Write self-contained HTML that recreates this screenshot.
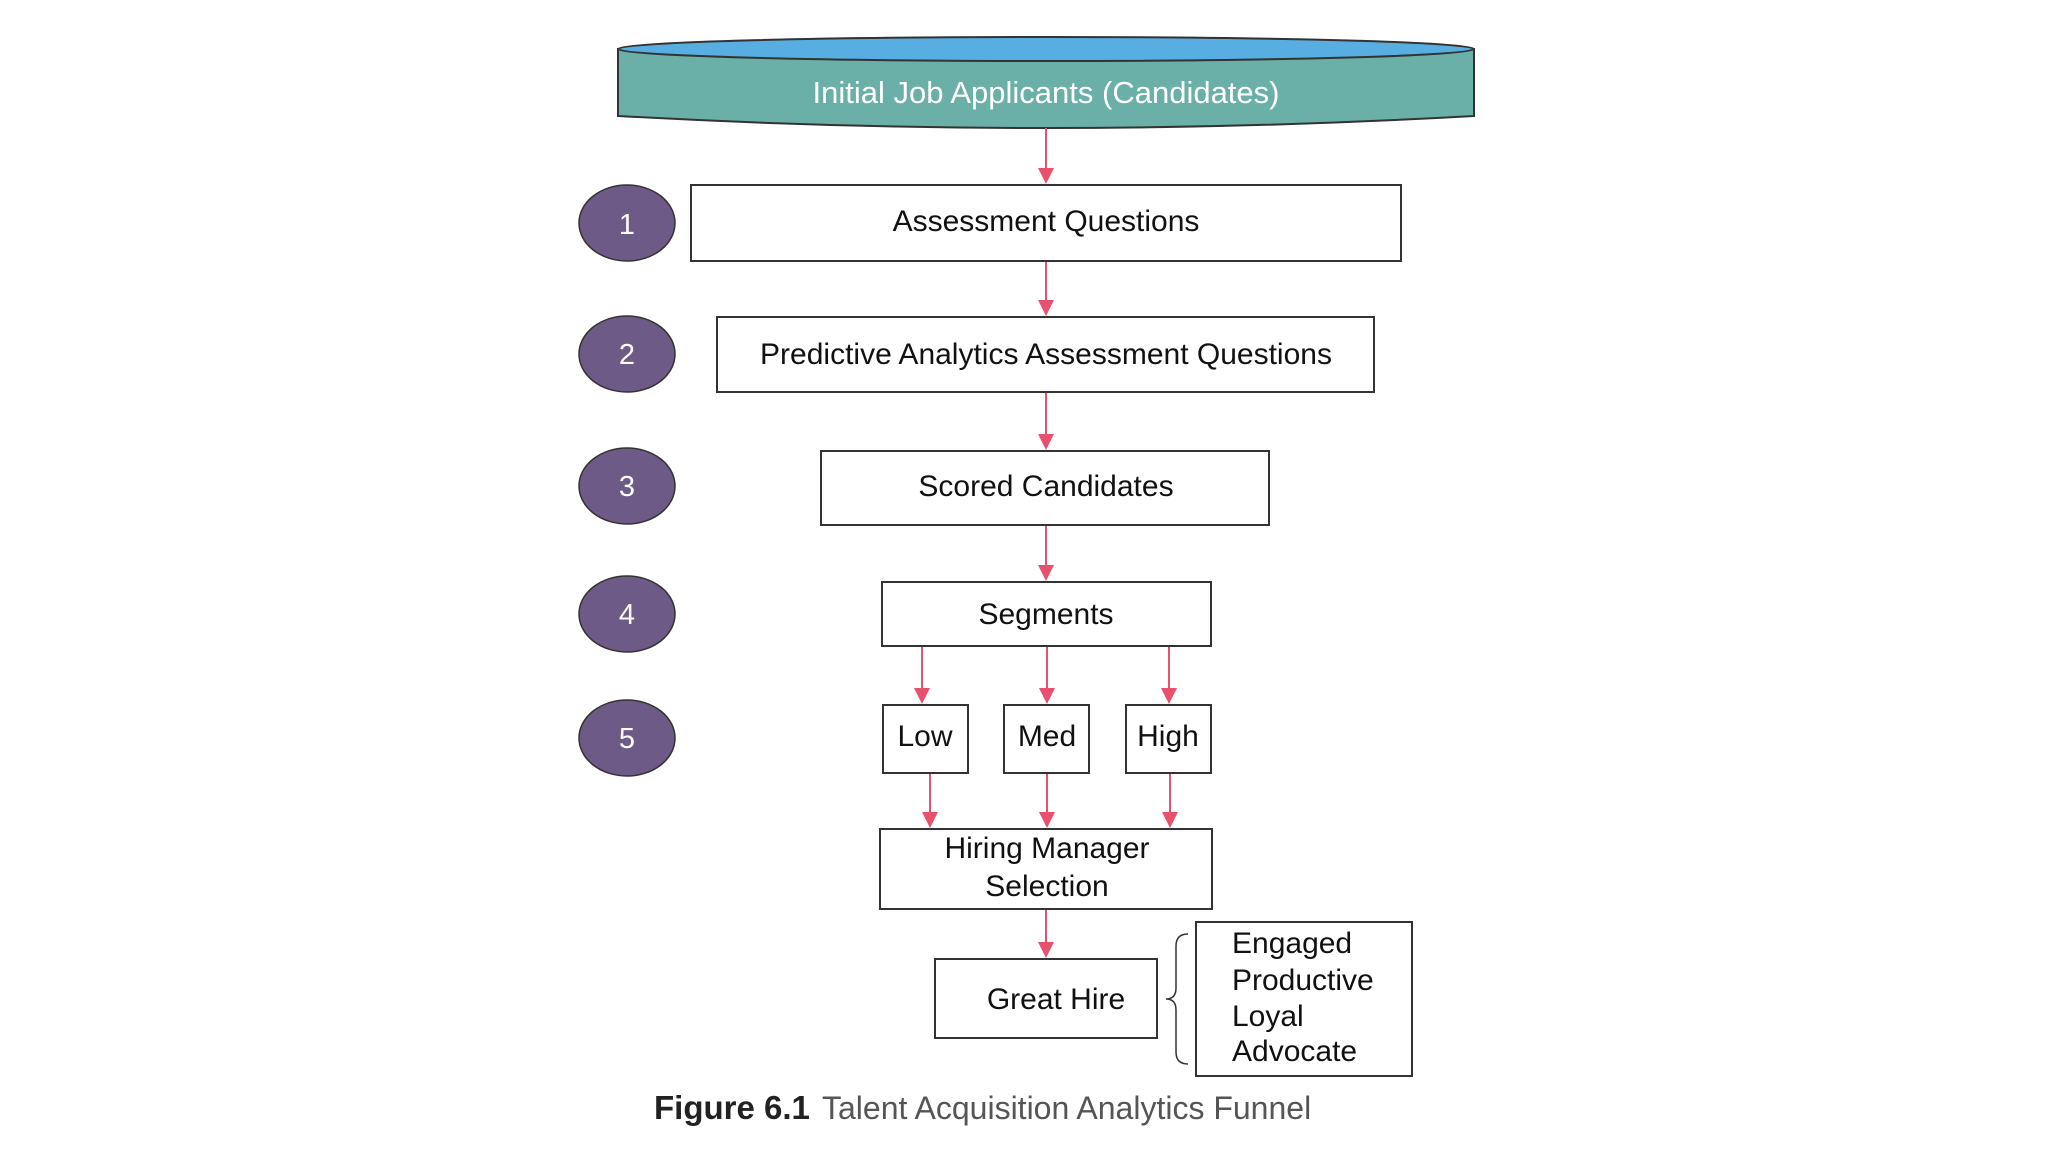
<!DOCTYPE html>
<html><head><meta charset="utf-8"><style>
body{margin:0;background:#fff;}
svg text{font-family:"Liberation Sans",sans-serif;}
</style></head><body>
<svg width="2048" height="1152" viewBox="0 0 2048 1152" xmlns="http://www.w3.org/2000/svg">
<defs><marker id="a" markerWidth="10" markerHeight="10" refX="9" refY="5" orient="auto" markerUnits="userSpaceOnUse" viewBox="0 0 10 10"><path d="M0,0 L10,5 L0,10 z" fill="#e8506e"/></marker></defs>
<!-- cylinder -->
<path d="M618,49 L618,116 Q1046,140 1474,116 L1474,49 Z" fill="#6aafa8" stroke="#333" stroke-width="2"/>
<ellipse cx="1046" cy="49" rx="428" ry="12" fill="#58aee0" stroke="#333" stroke-width="2"/>
<text x="1046" y="103" font-size="31" fill="#fff" text-anchor="middle">Initial Job Applicants (Candidates)</text>
<g stroke="#e8506e" stroke-width="2" fill="none">
<line x1="1046" y1="128" x2="1046" y2="168"/>
<line x1="1046" y1="261" x2="1046" y2="300"/>
<line x1="1046" y1="392" x2="1046" y2="434"/>
<line x1="1046" y1="525" x2="1046" y2="565"/>
<line x1="922" y1="646" x2="922" y2="690"/>
<line x1="1047" y1="646" x2="1047" y2="690"/>
<line x1="1169" y1="646" x2="1169" y2="690"/>
<line x1="930" y1="773" x2="930" y2="813"/>
<line x1="1047" y1="773" x2="1047" y2="813"/>
<line x1="1170" y1="773" x2="1170" y2="813"/>
<line x1="1046" y1="909" x2="1046" y2="943"/>
</g>
<g fill="#e8506e">
<path d="M1038,168 L1054,168 L1046,184 Z"/>
<path d="M1038,300 L1054,300 L1046,316 Z"/>
<path d="M1038,434 L1054,434 L1046,450 Z"/>
<path d="M1038,565 L1054,565 L1046,581 Z"/>
<path d="M914,688 L930,688 L922,704 Z"/>
<path d="M1039,688 L1055,688 L1047,704 Z"/>
<path d="M1161,688 L1177,688 L1169,704 Z"/>
<path d="M922,812 L938,812 L930,828 Z"/>
<path d="M1039,812 L1055,812 L1047,828 Z"/>
<path d="M1162,812 L1178,812 L1170,828 Z"/>
<path d="M1038,942 L1054,942 L1046,958 Z"/>
</g>
<!-- circles -->
<g fill="#6e5a86" stroke="#333" stroke-width="1.5">
<ellipse cx="627" cy="223" rx="48" ry="38"/>
<ellipse cx="627" cy="354" rx="48" ry="38"/>
<ellipse cx="627" cy="486" rx="48" ry="38"/>
<ellipse cx="627" cy="614" rx="48" ry="38"/>
<ellipse cx="627" cy="738" rx="48" ry="38"/>
</g>
<g fill="#fff" font-size="29" text-anchor="middle">
<text x="627" y="234">1</text><text x="627" y="364">2</text><text x="627" y="496">3</text><text x="627" y="624">4</text><text x="627" y="748">5</text>
</g>
<!-- boxes -->
<g fill="#fff" stroke="#333" stroke-width="2">
<rect x="691" y="185" width="710" height="76"/>
<rect x="717" y="317" width="657" height="75"/>
<rect x="821" y="451" width="448" height="74"/>
<rect x="882" y="582" width="329" height="64"/>
<rect x="883" y="705" width="85" height="68"/>
<rect x="1004" y="705" width="85" height="68"/>
<rect x="1126" y="705" width="85" height="68"/>
<rect x="880" y="829" width="332" height="80"/>
<rect x="935" y="959" width="222" height="79"/>
<rect x="1196" y="922" width="216" height="154"/>
</g>
<g fill="#111" font-size="30" text-anchor="middle">
<text x="1046" y="231">Assessment Questions</text>
<text x="1046" y="364">Predictive Analytics Assessment Questions</text>
<text x="1046" y="496">Scored Candidates</text>
<text x="1046" y="624">Segments</text>
<text x="925" y="746">Low</text>
<text x="1047" y="746">Med</text>
<text x="1168" y="746">High</text>
<text x="1047" y="858">Hiring Manager</text>
<text x="1047" y="896">Selection</text>
<text x="1056" y="1009">Great Hire</text>
</g>
<g fill="#111" font-size="30">
<text x="1232" y="953">Engaged</text>
<text x="1232" y="990">Productive</text>
<text x="1232" y="1026">Loyal</text>
<text x="1232" y="1061">Advocate</text>
</g>
<path d="M1188,934 Q1176,934 1176,946 L1176,988 Q1176,999 1166,999 Q1176,999 1176,1010 L1176,1052 Q1176,1064 1188,1064" fill="none" stroke="#333" stroke-width="1.5"/>
<text x="654" y="1119" font-size="33" font-weight="bold" fill="#222" font-family="Liberation Sans,sans-serif">Figure 6.1</text>
<text x="822" y="1119" font-size="32" fill="#555" font-family="Liberation Sans,sans-serif">Talent Acquisition Analytics Funnel</text>
</svg>
</body></html>
